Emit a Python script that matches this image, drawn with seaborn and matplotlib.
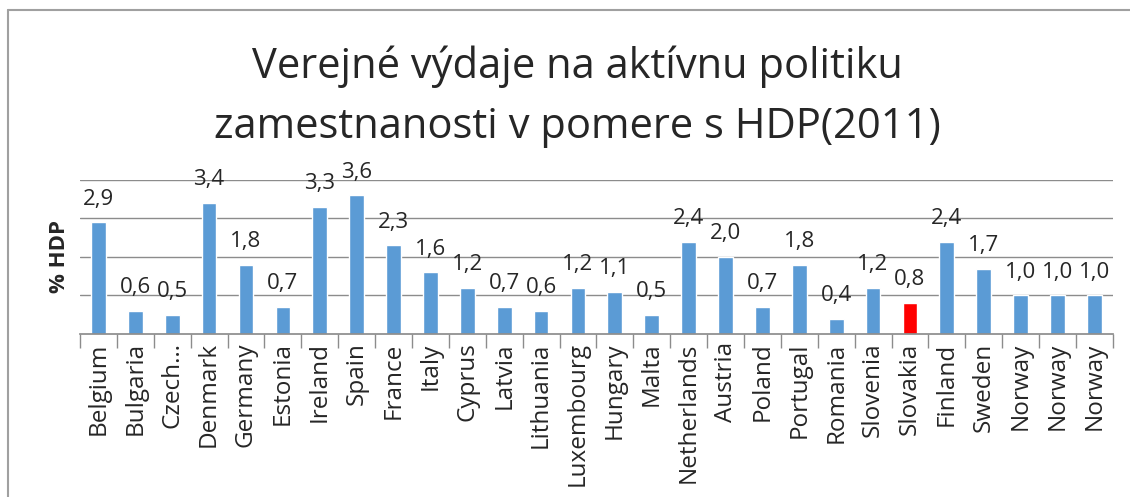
import seaborn as sns
import matplotlib.pyplot as plt
import pandas as pd
from matplotlib.lines import Line2D

krajiny = ['Belgium', 'Bulgaria', 'Czech…', 'Denmark', 'Germany', 'Estonia',
           'Ireland', 'Spain', 'France', 'Italy', 'Cyprus', 'Latvia',
           'Lithuania', 'Luxembourg', 'Hungary', 'Malta', 'Netherlands',
           'Austria', 'Poland', 'Portugal', 'Romania', 'Slovenia', 'Slovakia',
           'Finland', 'Sweden', 'Norway', 'Norway', 'Norway']
hodnoty = [2.9, 0.6, 0.5, 3.4, 1.8, 0.7, 3.3, 3.6, 2.3, 1.6, 1.2, 0.7, 0.6,
           1.2, 1.1, 0.5, 2.4, 2.0, 0.7, 1.8, 0.4, 1.2, 0.8, 2.4, 1.7, 1.0,
           1.0, 1.0]
zvyraznena = 'Slovakia'

sns.set_theme(style='white')
plt.rcParams['font.family'] = ['Open Sans', 'DejaVu Sans']

df = pd.DataFrame({'poz': [str(i) for i in range(len(krajiny))],
                   'krajina': krajiny, 'hodnota': hodnoty})
farby = ['#FF0000' if k == zvyraznena else '#5B9BD5' for k in krajiny]

fig = plt.figure(figsize=(11.3, 4.97), dpi=100)
ax = fig.add_axes([0.0708, 0.328, 0.914, 0.31])

sns.barplot(data=df, x='poz', y='hodnota', hue='poz', palette=farby,
            legend=False, width=0.4, saturation=1, ax=ax)

ax.set_ylim(0, 4)
ax.set_xlim(-0.5, len(krajiny) - 0.5)
ax.set_yticks([1, 2, 3, 4])
ax.set_yticklabels([])
ax.tick_params(axis='y', length=0)
ax.yaxis.grid(True, color='#8C8C8C', linewidth=1)
ax.set_axisbelow(True)

ax.set_xticks([i - 0.5 for i in range(len(krajiny) + 1)], minor=True)
ax.set_xticks(range(len(krajiny)))
ax.set_xticklabels(krajiny, rotation=90, fontsize=17.5)
ax.tick_params(axis='x', which='major', length=0, pad=6)
ax.tick_params(axis='x', which='minor', length=10, width=1, color='#8C8C8C',
               bottom=True)

for s in ['top', 'right', 'left']:
    ax.spines[s].set_visible(False)
ax.spines['bottom'].set_color('#8C8C8C')

# popisky hodnot nad stlpcami
for i, v in enumerate(hodnoty):
    ax.text(i, v + 0.33, f'{v:.1f}'.replace('.', ','), ha='center',
            va='bottom', fontsize=16)

ax.set_xlabel('')
ax.set_ylabel('% HDP', fontsize=16, fontweight='bold')
ax.yaxis.set_label_coords(-0.0097, 0.5)

fig.text(0.511, 0.805, 'Verejné výdaje na aktívnu politiku\n'
         'zamestnanosti v pomere s HDP(2011)', ha='center', va='center',
         fontsize=30, linespacing=1.57)

fig.add_artist(Line2D([0.0075, 0.0075], [0, 0.98], color='#A0A0A0',
                      linewidth=1.5, transform=fig.transFigure))
fig.add_artist(Line2D([0.0075, 1], [0.98, 0.98], color='#A0A0A0',
                      linewidth=1.5, transform=fig.transFigure))

fig.savefig('out.png', dpi=100)
